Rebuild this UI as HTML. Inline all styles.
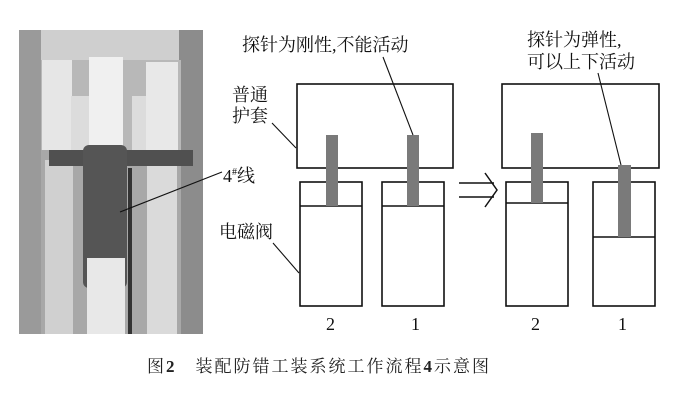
<!DOCTYPE html>
<html><head><meta charset="utf-8"><style>
body{margin:0;background:#fff;width:674px;height:406px;overflow:hidden;font-family:"Liberation Serif","Noto Serif CJK SC",serif;}
.a{position:absolute}
.t{position:absolute;font-size:18px;color:#111;line-height:20px;white-space:nowrap}
</style></head><body>
<div class="a" style="left:19px;top:30px;width:184px;height:304px;background:#8a8a8a;overflow:hidden">
 <div class="a" style="left:0;top:0;width:184px;height:30px;background:#cfcfcf"></div>
 <div class="a" style="left:0;top:0;width:22px;height:304px;background:#9a9a9a"></div>
 <div class="a" style="left:160px;top:0;width:24px;height:304px;background:#8c8c8c"></div>
 <div class="a" style="left:22px;top:30px;width:140px;height:90px;background:#b8b8b8"></div>
 <div class="a" style="left:23px;top:30px;width:30px;height:90px;background:#e6e6e6"></div>
 <div class="a" style="left:70px;top:27px;width:34px;height:95px;background:#f0f0f0"></div>
 <div class="a" style="left:127px;top:32px;width:32px;height:90px;background:#e8e8e8"></div>
 <div class="a" style="left:52px;top:66px;width:18px;height:56px;background:#dcdcdc"></div>
 <div class="a" style="left:113px;top:66px;width:14px;height:56px;background:#dcdcdc"></div>
 <div class="a" style="left:22px;top:120px;width:140px;height:184px;background:#a8a8a8"></div>
 <div class="a" style="left:26px;top:130px;width:28px;height:174px;background:#d0d0d0"></div>
 <div class="a" style="left:128px;top:135px;width:30px;height:169px;background:#dadada"></div>
 <div class="a" style="left:30px;top:120px;width:144px;height:16px;background:#505050"></div>
 <div class="a" style="left:64px;top:115px;width:44px;height:143px;background:#555;border-radius:6px"></div>
 <div class="a" style="left:68px;top:228px;width:38px;height:76px;background:#e8e8e8"></div>
 <div class="a" style="left:109px;top:138px;width:4px;height:166px;background:#333"></div>
</div>
<svg class="a" style="left:0;top:0" width="674" height="406">
<g fill="none" stroke="#111" stroke-width="1.6">
<rect x="297" y="84" width="156" height="84"/>
<rect x="502" y="84" width="157" height="84"/>
<rect x="300" y="182" width="62" height="124"/>
<rect x="382" y="182" width="62" height="124"/>
<rect x="506" y="182" width="62" height="124"/>
<rect x="593" y="182" width="62" height="124"/>
<line x1="300" y1="206" x2="362" y2="206"/>
<line x1="382" y1="206" x2="444" y2="206"/>
<line x1="506" y1="203" x2="568" y2="203"/>
<line x1="593" y1="237" x2="655" y2="237"/>
</g>
<g fill="#7a7a7a">
<rect x="326" y="135" width="12" height="71"/>
<rect x="407" y="135" width="12" height="71"/>
<rect x="531" y="133" width="12" height="70"/>
<rect x="618" y="165" width="13" height="72"/>
</g>
<g stroke="#111" stroke-width="1.1" fill="none">
<line x1="383" y1="57" x2="413" y2="135"/>
<line x1="598" y1="73" x2="621" y2="165"/>
<line x1="272" y1="123" x2="296" y2="148"/>
<line x1="273" y1="243" x2="299" y2="273"/>
<line x1="120" y1="212" x2="222" y2="172"/>
<line x1="459" y1="183" x2="494" y2="183" stroke-width="1.5"/>
<line x1="459" y1="197" x2="494" y2="197" stroke-width="1.5"/>
<polyline points="485,173 497,190 485,207" stroke-width="1.5"/>
</g>
</svg>
<div class="t" style="left:242px;top:35px">探针为刚性,不能活动</div>
<div class="t" style="left:527px;top:30px">探针为弹性,</div>
<div class="t" style="left:527px;top:52px">可以上下活动</div>
<div class="t" style="left:232px;top:85px">普通</div>
<div class="t" style="left:232px;top:106px">护套</div>
<div class="t" style="left:219px;top:222px">电磁阀</div>
<div class="t" style="left:223px;top:163px">4<sup style="font-size:10px">#</sup>线</div>
<div class="t" style="left:326px;top:314px">2</div>
<div class="t" style="left:411px;top:314px">1</div>
<div class="t" style="left:531px;top:314px">2</div>
<div class="t" style="left:618px;top:314px">1</div>
<div class="t" style="left:147px;top:357px;font-size:17px;letter-spacing:2px;color:#222">图<b>2</b>　装配防错工装系统工作流程<b>4</b>示意图</div>
</body></html>
